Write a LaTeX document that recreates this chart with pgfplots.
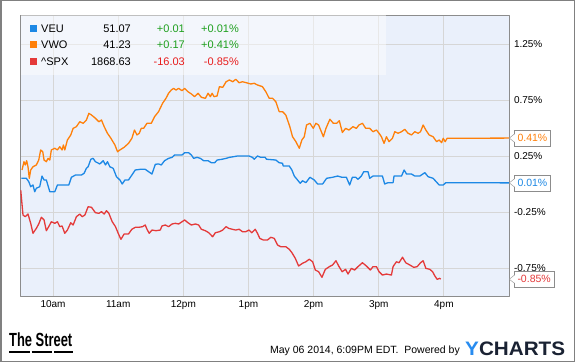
\documentclass[border=0pt]{standalone}
\usepackage{pgfplots}
\pgfplotsset{compat=1.18}
\usepackage{fontspec}
\setmainfont{Liberation Sans}
\definecolor{plotbg}{RGB}{234,240,251}
\definecolor{gridgray}{RGB}{214,214,214}
\definecolor{axisgray}{RGB}{140,140,140}
\definecolor{frame}{RGB}{128,128,128}
\definecolor{veu}{RGB}{28,136,229}
\definecolor{vwo}{RGB}{255,128,10}
\definecolor{spx}{RGB}{228,58,58}
\definecolor{upgreen}{RGB}{30,160,30}
\definecolor{downred}{RGB}{232,28,28}
\definecolor{ychblue}{RGB}{40,140,240}
\definecolor{ychnavy}{RGB}{26,34,51}
\tikzset{endlab/.style={draw=axisgray, fill=white, inner xsep=3pt, inner ysep=0pt, minimum height=16pt,
        anchor=west, font=\fontsize{10.5}{12}\selectfont}}
\newcommand\pointer[1]{%
  \fill[white] ([xshift=0.6pt,yshift=4pt]#1.west) -- ++(-5.6pt,-4pt) -- ++(5.6pt,-4pt) -- cycle;
  \draw[axisgray, line width=0.4pt] ([yshift=4pt]#1.west) -- ++(-5pt,-4pt) -- ++(5pt,-4pt);}
\begin{document}
\begin{tikzpicture}[x=1pt,y=1pt]
\useasboundingbox (0,0) rectangle (575,362);
\fill[white] (0,0) rectangle (575,362);
\begin{axis}[
  at={(20.5pt,66pt)}, anchor=south west,
  scale only axis, width=488.5pt, height=281pt,
  xmin=0, xmax=450, ymin=-1.0, ymax=1.509,
  axis background/.style={fill=plotbg},
  axis line style={draw=axisgray, line width=0.8pt},
  grid=major, major grid style={draw=gridgray, line width=0.8pt},
  xtick={30,90,150,210,270,330,390},
  xticklabels={10am,11am,12pm,1pm,2pm,3pm,4pm},
  ytick={-0.75,-0.25,0.25,0.75,1.25},
  yticklabels={-0.75\%,-0.25\%,0.25\%,0.75\%,1.25\%},
  yticklabel pos=right,
  major tick length=0pt,
  tick label style={font=\fontsize{10}{12}\selectfont},
  yticklabel style={anchor=west, xshift=1.5pt},
  xticklabel style={yshift=-1pt},
  clip mode=individual,
  line join=round,
]
% VWO (orange)
\addplot[vwo, line width=1.3pt] coordinates {
(1.4,0.125)(3.2,0.199)(4.4,0.170)(5.7,0.208)(6.9,0.154)(8.1,0.051)(9.4,0.125)(11.5,0.154)
(14.6,0.170)(16.8,0.214)(18.6,0.304)(20.5,0.288)(21.7,0.214)(23.8,0.199)(25.4,0.229)(27.0,0.214)
(28.4,0.304)(31.6,0.319)(34.0,0.304)(36.2,0.333)(38.3,0.304)(39.5,0.348)(40.8,0.304)(43.2,0.393)
(46.3,0.438)(48.5,0.497)(51.5,0.512)(54.6,0.556)(57.7,0.542)(60.7,0.571)(63.0,0.631)(65.4,0.616)
(69.0,0.587)(72.2,0.556)(74.6,0.571)(77.1,0.512)(80.1,0.453)(83.3,0.408)(87.0,0.348)(89.4,0.288)
(91.6,0.304)(95.5,0.328)(99.5,0.363)(102.6,0.408)(105.0,0.482)(107.3,0.438)(109.4,0.453)(111.2,0.497)
(113.4,0.497)(116.5,0.542)(120.5,0.542)(123.5,0.601)(127.2,0.646)(130.9,0.721)(134.0,0.765)(136.4,0.810)
(138.9,0.839)(141.0,0.854)(143.3,0.839)(145.7,0.854)(148.8,0.833)(151.2,0.854)(154.3,0.824)(157.4,0.804)
(160.4,0.780)(163.6,0.810)(166.6,0.774)(170.3,0.765)(172.8,0.810)(174.9,0.780)(176.5,0.810)(178.3,0.780)
(181.1,0.786)(183.2,0.869)(186.3,0.863)(189.4,0.913)(192.5,0.929)(195.5,0.913)(198.3,0.935)(201.4,0.904)
(204.5,0.913)(208.2,0.904)(212.1,0.893)(215.3,0.899)(218.3,0.884)(222.9,0.869)(226.0,0.824)(229.1,0.765)
(232.2,0.765)(235.2,0.735)(238.3,0.646)(241.4,0.646)(244.4,0.616)(246.0,0.571)(248.1,0.512)(250.6,0.422)
(253.7,0.378)(256.8,0.319)(259.2,0.393)(261.4,0.422)(263.5,0.527)(266.6,0.542)(269.7,0.497)(272.1,0.542)
(274.6,0.527)(276.5,0.482)(279.0,0.422)(281.4,0.497)(285.0,0.578)(288.2,0.542)(291.2,0.542)(293.7,0.565)
(296.5,0.460)(299.5,0.497)(302.6,0.482)(306.3,0.512)(309.4,0.497)(311.8,0.527)(315.0,0.542)(318.0,0.497)
(321.7,0.497)(324.7,0.467)(327.9,0.482)(330.3,0.453)(332.5,0.422)(334.9,0.363)(337.1,0.422)(339.5,0.378)
(342.6,0.408)(344.8,0.467)(347.8,0.453)(351.0,0.467)(354.0,0.488)(357.0,0.453)(360.2,0.438)(363.2,0.467)
(366.3,0.453)(368.5,0.467)(370.9,0.527)(373.4,0.482)(376.4,0.438)(380.1,0.422)(383.3,0.378)(385.7,0.393)
(387.9,0.369)(389.4,0.408)(391.2,0.378)(393.0,0.408)(450,0.41)
};
% VEU (blue)
\addplot[veu, line width=1.3pt] coordinates {
(0.7,0.051)(5.4,0.051)(7.6,0.021)(9.4,-0.024)(11.5,-0.009)(13.1,-0.069)(14.6,-0.038)(17.7,-0.024)
(19.8,0.071)(21.7,0.036)(23.8,0.036)(27.0,-0.069)(31.6,-0.069)(34.0,-0.009)(44.5,-0.009)(46.9,0.060)
(50.6,0.080)(56.1,0.080)(58.6,0.096)(60.7,0.140)(62.3,0.154)(64.8,0.221)(66.9,0.229)(69.0,0.199)
(73.1,0.179)(76.2,0.208)(78.3,0.170)(80.1,0.199)(82.3,0.154)(85.4,0.140)(88.4,0.065)(91.6,0.036)
(93.7,0.000)(96.2,0.036)(99.5,0.036)(102.6,0.080)(105.7,0.125)(110.3,0.131)(114.9,0.131)(118.0,0.110)
(121.1,0.089)(124.2,0.176)(127.2,0.179)(129.7,0.170)(132.7,0.208)(136.4,0.229)(139.6,0.238)(142.0,0.259)
(148.8,0.259)(151.2,0.279)(154.9,0.279)(157.4,0.259)(159.5,0.229)(162.6,0.238)(165.7,0.229)(168.7,0.208)
(172.8,0.208)(175.8,0.190)(178.9,0.190)(181.1,0.214)(185.7,0.221)(189.4,0.229)(192.5,0.238)(196.4,0.244)
(199.8,0.250)(210.6,0.250)(213.7,0.238)(215.3,0.221)(218.3,0.250)(221.4,0.238)(225.4,0.238)(226.6,0.221)
(235.2,0.214)(238.3,0.190)(241.4,0.185)(242.0,0.161)(247.6,0.161)(250.0,0.125)(252.2,0.071)(255.2,0.036)
(257.7,0.006)(259.8,0.029)(262.9,0.012)(266.6,0.060)(270.6,0.036)(273.7,0.000)(278.3,0.000)(282.0,0.051)
(287.5,0.060)(292.2,0.071)(296.1,0.060)(300.2,0.060)(303.2,-0.009)(305.7,0.060)(308.8,0.060)(310.9,0.042)
(314.0,0.071)(316.2,0.110)(320.1,0.110)(321.7,0.051)(324.7,0.071)(333.4,0.071)(335.5,0.000)(338.6,0.012)
(343.2,0.012)(344.1,0.071)(351.0,0.071)(353.4,0.125)(355.6,0.089)(360.2,0.089)(363.2,0.071)(367.8,0.071)
(372.5,0.101)(375.5,0.065)(380.1,0.051)(385.7,-0.009)(389.4,-0.009)(391.8,0.012)(450,0.01)
};
% ^SPX (red)
\addplot[spx, line width=1.3pt] coordinates {
(0.2,-0.054)(2.3,-0.277)(4.4,-0.292)(6.9,-0.268)(9.4,-0.351)(11.5,-0.440)(14.6,-0.396)(16.8,-0.357)
(19.2,-0.297)(21.7,-0.321)(23.8,-0.417)(26.0,-0.381)(28.4,-0.337)(31.6,-0.351)(34.0,-0.337)(36.2,-0.381)
(38.3,-0.375)(40.8,-0.440)(43.2,-0.411)(46.3,-0.346)(48.5,-0.366)(51.5,-0.292)(54.6,-0.268)(56.8,-0.292)
(59.3,-0.277)(62.3,-0.203)(65.4,-0.208)(69.0,-0.256)(72.2,-0.262)(74.6,-0.247)(77.1,-0.268)(79.2,-0.238)
(81.4,-0.262)(84.5,-0.337)(87.5,-0.381)(90.0,-0.440)(92.5,-0.494)(95.5,-0.446)(99.5,-0.446)(102.6,-0.404)
(105.7,-0.387)(108.7,-0.387)(112.4,-0.381)(114.9,-0.366)(116.5,-0.404)(118.6,-0.440)(121.1,-0.411)(124.8,-0.417)
(128.8,-0.411)(130.3,-0.375)(133.4,-0.366)(136.4,-0.381)(139.6,-0.357)(142.6,-0.351)(145.7,-0.357)(148.8,-0.337)
(151.2,-0.321)(154.3,-0.346)(157.4,-0.366)(161.1,-0.357)(164.1,-0.366)(166.6,-0.404)(170.3,-0.417)(173.4,-0.435)
(177.0,-0.471)(179.5,-0.435)(183.2,-0.426)(186.3,-0.411)(189.4,-0.381)(191.8,-0.396)(195.0,-0.404)(198.3,-0.411)
(201.4,-0.404)(204.5,-0.426)(207.5,-0.426)(210.6,-0.411)(213.0,-0.435)(216.2,-0.404)(218.3,-0.440)(220.4,-0.485)
(223.6,-0.500)(227.5,-0.500)(230.6,-0.476)(233.7,-0.485)(236.8,-0.545)(239.8,-0.560)(244.4,-0.560)(247.6,-0.583)
(250.0,-0.613)(253.1,-0.663)(256.2,-0.732)(259.8,-0.708)(262.9,-0.694)(266.0,-0.672)(269.1,-0.694)(271.6,-0.768)
(274.6,-0.783)(277.7,-0.833)(280.8,-0.762)(284.5,-0.738)(287.5,-0.723)(290.6,-0.685)(293.1,-0.732)(296.3,-0.783)
(299.5,-0.762)(301.7,-0.804)(304.8,-0.753)(307.8,-0.768)(310.9,-0.738)(315.0,-0.703)(318.6,-0.732)(322.3,-0.768)
(324.7,-0.738)(327.9,-0.738)(330.3,-0.783)(333.4,-0.813)(337.1,-0.804)(341.7,-0.813)(343.2,-0.738)(346.3,-0.694)
(348.7,-0.703)(351.9,-0.654)(354.9,-0.703)(358.6,-0.723)(362.3,-0.744)(365.4,-0.738)(368.5,-0.703)(370.9,-0.685)
(373.4,-0.753)(377.1,-0.762)(379.6,-0.783)(381.7,-0.821)(383.8,-0.851)(386.3,-0.842)(387.0,-0.850)
};
\coordinate (pA) at (axis cs:450,0.41);
\coordinate (pB) at (axis cs:450,0.01);
\coordinate (pC) at (axis cs:450,-0.85);
\end{axis}
% end-of-line value labels
\node[endlab, text=vwo] (labA) at ([xshift=5.3pt]pA) {0.41\%};
\pointer{labA}
\node[endlab, text=veu] (labB) at ([xshift=5.3pt]pB) {0.01\%};
\pointer{labB}
\node[endlab, text=spx] (labC) at ([xshift=5.3pt]pC) {-0.85\%};
\pointer{labC}
% legend box
\fill[white, opacity=0.45] (20.9,287) rectangle (386,346.6);
\foreach \yy/\c/\n/\p/\d/\q/\dc in {333/veu/VEU/51.07/+0.01/+0.01\%/upgreen,
  317/vwo/VWO/41.23/+0.17/+0.41\%/upgreen,
  300/spx/\textasciicircum SPX/1868.63/-16.03/-0.85\%/downred}{
  \fill[\c] (30,\yy-3.5) rectangle (37,\yy+3.5);
  \node[anchor=mid west, inner sep=0pt, font=\fontsize{11}{13}\selectfont] at (41,\yy-0.5) {\n};
  \node[anchor=mid east, inner sep=0pt, font=\fontsize{11}{13}\selectfont] at (131,\yy-0.5) {\p};
  \node[anchor=mid east, inner sep=0pt, text=\dc, font=\fontsize{11}{13}\selectfont] at (185,\yy-0.5) {\d};
  \node[anchor=mid east, inner sep=0pt, text=\dc, font=\fontsize{11}{13}\selectfont] at (239,\yy-0.5) {\q};
}
% footer
\node[anchor=base west, inner sep=0pt, xscale=0.68, font=\bfseries\fontsize{19}{19}\selectfont] at (9,16) {The Street};
\draw[black, line width=2pt] (9,10) -- (30,10) (31.5,10) -- (52,10) (54,10) -- (73,10);
\node[anchor=base east, inner sep=0pt, font=\fontsize{10.5}{12}\selectfont] at (460,9) {May 06 2014, 6:09PM EDT.\ \ Powered by};
\node[anchor=base west, inner sep=0pt, xscale=1.06, text=ychnavy, font=\bfseries\fontsize{19.5}{20}\selectfont] at (465,7) {\textcolor{ychblue}{Y}CHARTS};
% outer frame
\draw[frame, line width=1.5pt] (0.75,0.75) rectangle (574.25,361.25);
\end{tikzpicture}
\end{document}
